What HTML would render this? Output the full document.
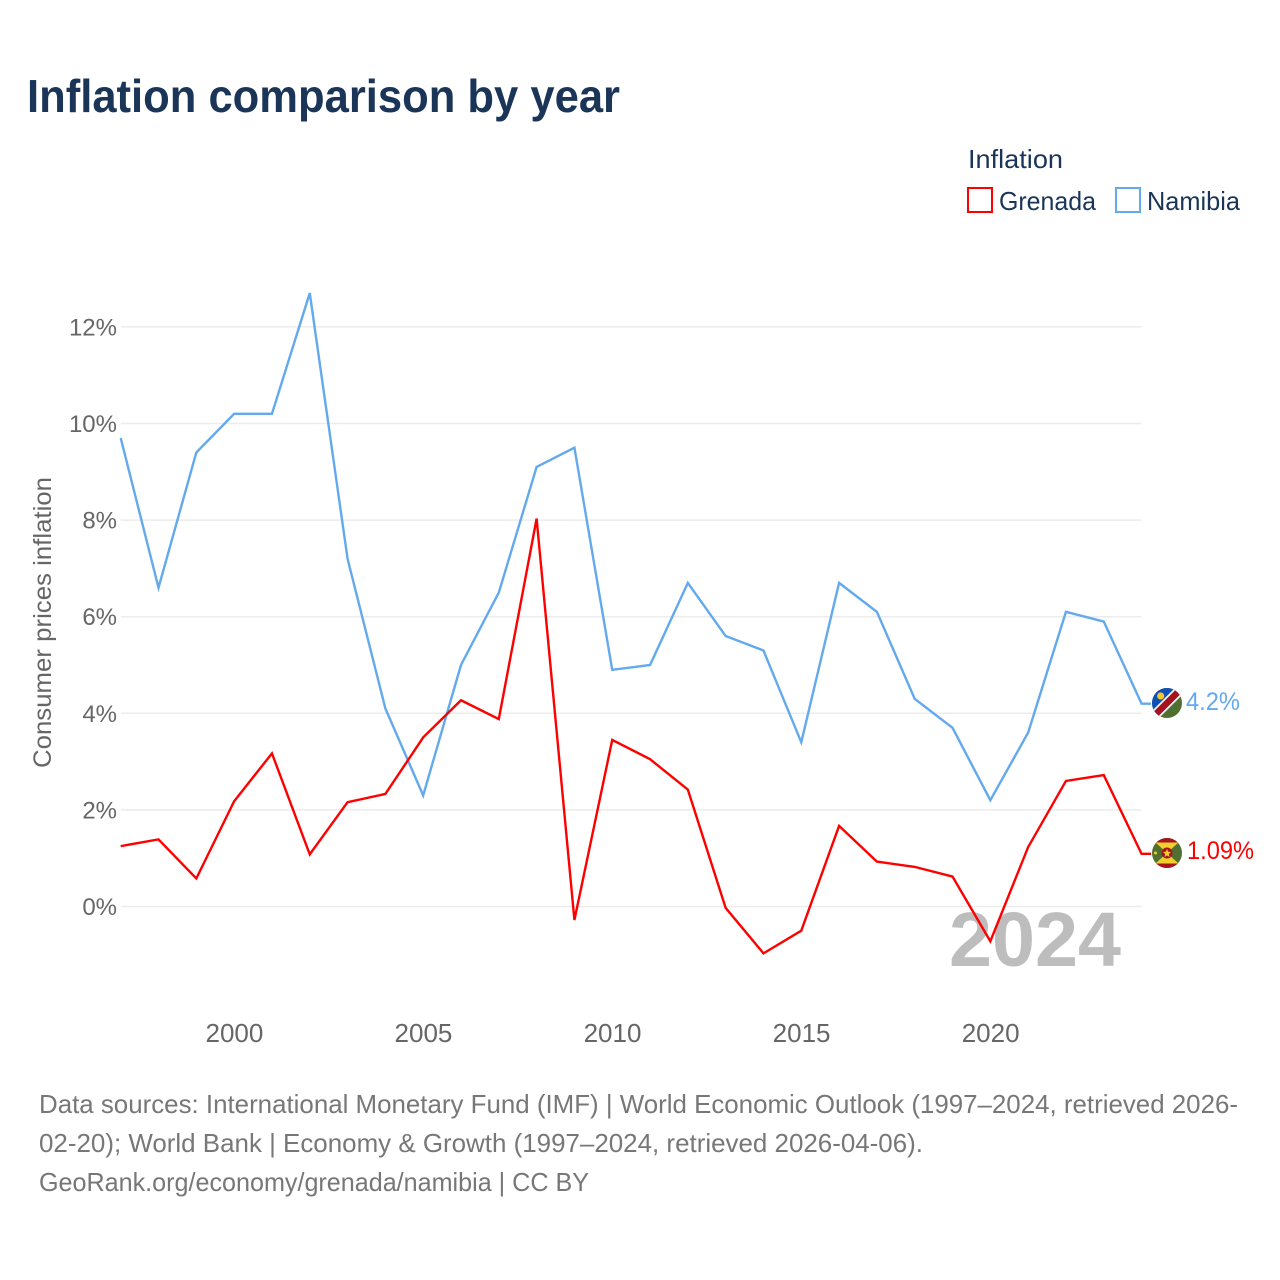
<!DOCTYPE html>
<html lang="en">
<head>
<meta charset="utf-8">
<title>Inflation comparison by year</title>
<style>
html,body{margin:0;padding:0;background:#fff;width:1280px;height:1280px;overflow:hidden}
svg{display:block}
text{font-family:"Liberation Sans",sans-serif}
</style>
</head>
<body>
<svg id="chart" xmlns="http://www.w3.org/2000/svg" width="1280" height="1280" viewBox="0 0 1280 1280">
  <defs>
    <clipPath id="clip-nam"><circle cx="1167" cy="703" r="15"/></clipPath>
    <clipPath id="clip-gre"><circle cx="1167" cy="853" r="15"/></clipPath>
  </defs>
  <text x="27" y="112" font-size="46" font-weight="700" fill="#1a3557" textLength="593" lengthAdjust="spacingAndGlyphs">Inflation comparison by year</text>

  <g>
    <text x="968" y="168" font-size="26" fill="#1a3557" textLength="95" lengthAdjust="spacingAndGlyphs">Inflation</text>
    <rect x="968" y="188" width="24" height="24" fill="#fff" stroke="#ff0000" stroke-width="2"/>
    <text x="999" y="210" font-size="26" fill="#1a3557" textLength="97" lengthAdjust="spacingAndGlyphs">Grenada</text>
    <rect x="1116" y="188" width="24" height="24" fill="#fff" stroke="#63a9ee" stroke-width="2"/>
    <text x="1147" y="210" font-size="26" fill="#1a3557" textLength="93" lengthAdjust="spacingAndGlyphs">Namibia</text>
  </g>

  <text transform="translate(51 768) rotate(-90)" font-size="25" fill="#666" textLength="291" lengthAdjust="spacingAndGlyphs">Consumer prices inflation</text>

  <g id="grid"></g>
  <g id="yticks"></g>
  <g id="xticks"></g>

  <text x="949" y="966" font-size="77" font-weight="700" fill="#bdbdbd" textLength="172" lengthAdjust="spacingAndGlyphs">2024</text>

  <g id="series"></g>

  <g clip-path="url(#clip-nam)">
    <rect x="1152" y="688" width="30" height="30" fill="#4f7030"/>
    <polygon points="1152,688 1182,688 1152,718" fill="#0f50b8"/>
    <line x1="1150" y1="720" x2="1184" y2="686" stroke="#f4f4f4" stroke-width="10"/>
    <line x1="1150" y1="720" x2="1184" y2="686" stroke="#a8111f" stroke-width="6.5"/>
    <circle cx="1160.700" cy="696" r="3.600" fill="#f5c52c"/>
  </g>
  <g clip-path="url(#clip-gre)">
    <rect x="1152" y="838" width="30" height="30" fill="#4f7030"/>
    <polygon points="1155,842 1179,842 1167,853" fill="#f2cf2e"/>
    <polygon points="1155,864 1179,864 1167,853" fill="#f2cf2e"/>
    <rect x="1152" y="838" width="30" height="4.500" fill="#a8151d"/>
    <rect x="1152" y="863.500" width="30" height="4.500" fill="#a8151d"/>
    <circle cx="1167" cy="853" r="5.500" fill="#a8151d"/>
    <polygon points="1167,849 1168.200,851.800 1171,852 1168.800,854 1169.500,857 1167,855.400 1164.500,857 1165.200,854 1163,852 1165.800,851.800" fill="#f2cf2e"/>
    <circle cx="1155.500" cy="853" r="1.500" fill="#f2cf2e"/>
  </g>

  <text id="label-namibia" x="1186" y="710" font-size="25" fill="#63a9ee" textLength="54" lengthAdjust="spacingAndGlyphs"></text>
  <text id="label-grenada" x="1187" y="859" font-size="25" fill="#ff0000" textLength="67" lengthAdjust="spacingAndGlyphs"></text>

  <g font-size="26" fill="#777">
    <text x="39" y="1113" textLength="1199" lengthAdjust="spacingAndGlyphs">Data sources: International Monetary Fund (IMF) | World Economic Outlook (1997–2024, retrieved 2026-</text>
    <text x="39" y="1152" textLength="884" lengthAdjust="spacingAndGlyphs">02-20); World Bank | Economy &amp; Growth (1997–2024, retrieved 2026-04-06).</text>
    <text x="39" y="1191" textLength="550" lengthAdjust="spacingAndGlyphs">GeoRank.org/economy/grenada/namibia | CC BY</text>
  </g>
</svg>
<script>
const years = [1997,1998,1999,2000,2001,2002,2003,2004,2005,2006,2007,2008,2009,2010,2011,2012,2013,2014,2015,2016,2017,2018,2019,2020,2021,2022,2023,2024];
const grenada = [1.25,1.39,0.58,2.18,3.17,1.08,2.16,2.33,3.5,4.27,3.88,8.03,-0.28,3.45,3.05,2.42,-0.03,-0.97,-0.5,1.67,0.93,0.82,0.62,-0.72,1.23,2.6,2.72,1.09];
const namibia = [9.7,6.6,9.4,10.2,10.2,12.7,7.2,4.1,2.3,5.0,6.5,9.1,9.5,4.9,5.0,6.7,5.6,5.3,3.4,6.7,6.1,4.3,3.7,2.2,3.6,6.1,5.9,4.2];
const yTicks = [0,2,4,6,8,10,12];
const xTicks = [2000,2005,2010,2015,2020];

const NS = 'http://www.w3.org/2000/svg';
const xScale = function (year) { return 120.7 + (year - 1997) * 37.81; };
const yScale = function (value) { return 906.5 - value * 48.3; };

const gridGroup = document.getElementById('grid');
const yTickGroup = document.getElementById('yticks');
const xTickGroup = document.getElementById('xticks');
const seriesGroup = document.getElementById('series');

yTicks.forEach(function (tick) {
  const line = document.createElementNS(NS, 'line');
  
  
  line.setAttribute('x1', xScale(1997));
  line.setAttribute('x2', xScale(2024));
  line.setAttribute('y1', yScale(tick));
  line.setAttribute('y2', yScale(tick));
  line.setAttribute('stroke', '#ececec');
  line.setAttribute('stroke-width', '1.5');
  gridGroup.appendChild(line);

  const label = document.createElementNS(NS, 'text');
  
  
  label.setAttribute('x', 117);
  label.setAttribute('y', yScale(tick) + 8.5);
  label.setAttribute('text-anchor', 'end');
  label.setAttribute('font-size', '24');
  label.setAttribute('fill', '#666');
  label.textContent = tick + '%';
  yTickGroup.appendChild(label);
});

xTicks.forEach(function (tick) {
  const label = document.createElementNS(NS, 'text');
  
  
  label.setAttribute('x', xScale(tick) + 0.3);
  label.setAttribute('y', 1042);
  label.setAttribute('text-anchor', 'middle');
  label.setAttribute('font-size', '26');
  label.setAttribute('fill', '#666');
  label.textContent = tick;
  xTickGroup.appendChild(label);
});

function drawSeries(values, color, name) {
  const points = values.map(function (value, i) {
    return xScale(years[i]).toFixed(2) + ',' + yScale(value).toFixed(2);
  });
  const last = values[values.length - 1];
  points.push('1151,' + yScale(last).toFixed(2));
  const path = document.createElementNS(NS, 'polyline');
  
  
  path.setAttribute('points', points.join(' '));
  path.setAttribute('fill', 'none');
  path.setAttribute('stroke', color);
  path.setAttribute('stroke-width', '2.4');
  path.setAttribute('stroke-linejoin', 'miter');
  seriesGroup.appendChild(path);
}

drawSeries(namibia, '#63a9ee', 'line-namibia');
drawSeries(grenada, '#ff0000', 'line-grenada');

document.getElementById('label-namibia').textContent = namibia[namibia.length - 1] + '%';
document.getElementById('label-grenada').textContent = grenada[grenada.length - 1] + '%';
</script>
</body>
</html>
